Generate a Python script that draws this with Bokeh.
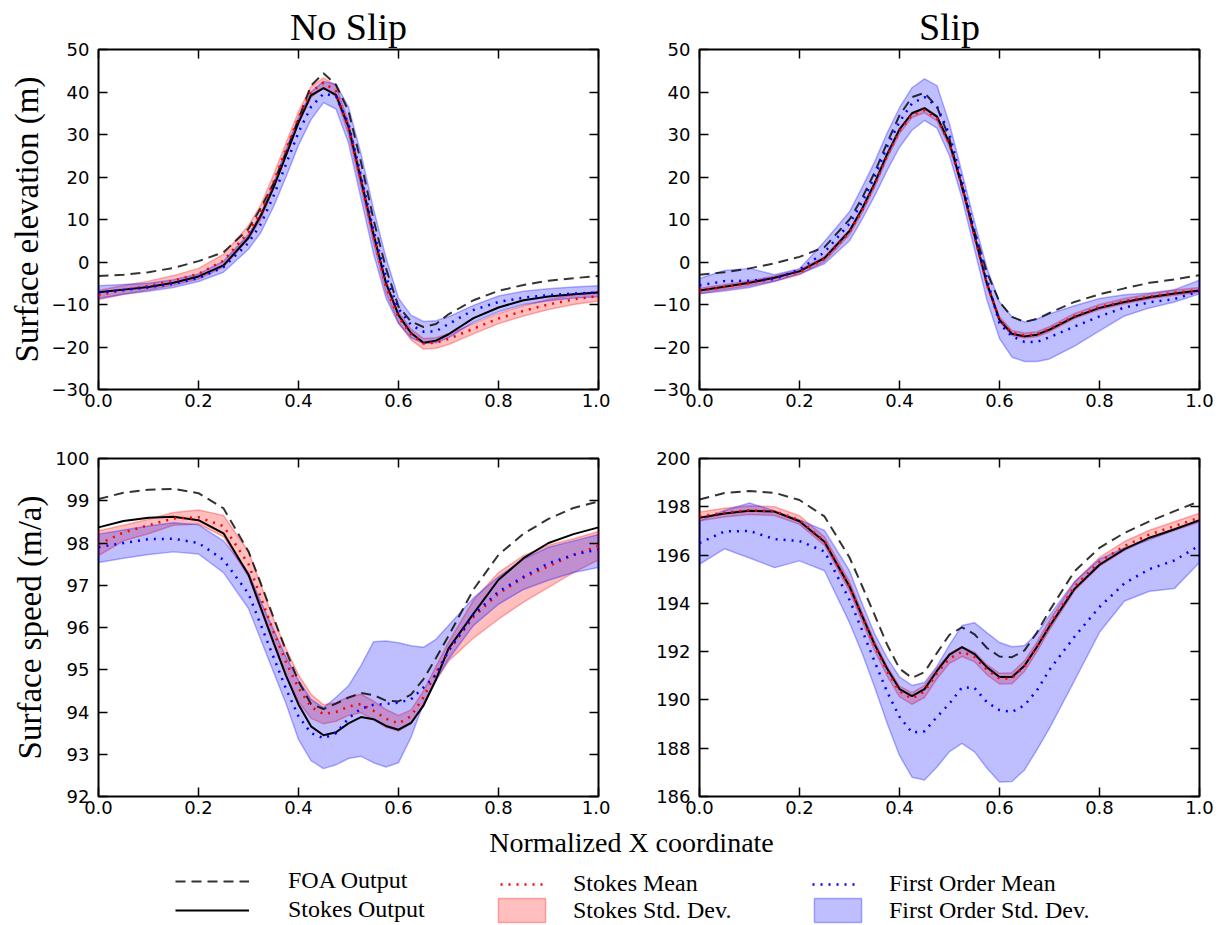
from bokeh.plotting import figure
from bokeh.models import (Range1d, FixedTicker, LinearAxis, Legend, LegendItem,
                          Label, CustomJSTickFormatter)
from bokeh.layouts import column, row
from bokeh.embed import file_html
from bokeh.resources import INLINE

# ---------------- data ----------------
X = [0.0, 0.05, 0.1, 0.15, 0.2, 0.25, 0.3, 0.325, 0.35, 0.375, 0.4, 0.425, 0.45, 0.475,
     0.5, 0.525, 0.55, 0.575, 0.6, 0.625, 0.65, 0.675, 0.7, 0.75, 0.8, 0.85, 0.9, 0.95, 1.0]

# No Slip - surface elevation
ns_elev_foa = [-3.3, -3.0, -2.4, -1.4, 0.2, 2.3, 7.8, 12.8, 18.5, 25.7, 33.6, 41.5, 44.4, 41.7,
               35.5, 23.5, 10.0, -1.5, -10.5, -14.0, -15.3, -14.6, -12.3, -9.0, -6.8, -5.4, -4.4, -3.8, -3.3]
ns_elev_stokes = [-7.1, -6.5, -5.9, -4.9, -3.4, -0.8, 5.7, 11.0, 17.5, 25.1, 32.8, 39.2, 40.9, 39.3,
                  31.8, 19.3, 6.5, -5.0, -12.5, -16.7, -19.0, -18.5, -17.0, -13.2, -10.7, -9.0, -8.1, -7.6, -7.2]
ns_elev_st_mean = [-7.8, -6.6, -5.6, -4.4, -2.8, 0.3, 7.0, 11.8, 18.8, 26.5, 34.0, 40.0, 42.2, 40.2,
                   31.5, 19.0, 6.0, -5.8, -13.0, -17.0, -19.2, -19.0, -18.1, -15.7, -13.3, -11.5, -10.0, -8.8, -8.0]
ns_elev_st_hi = [-6.7, -5.5, -4.5, -3.2, -1.5, 1.8, 8.6, 13.5, 20.5, 28.0, 35.4, 41.3, 43.3, 41.5,
                 33.0, 20.5, 7.5, -4.4, -11.7, -15.8, -18.0, -17.8, -16.9, -14.5, -12.1, -10.3, -8.8, -7.7, -6.9]
ns_elev_st_lo = [-8.9, -7.6, -6.6, -5.5, -4.0, -1.2, 5.4, 10.1, 17.1, 25.0, 32.6, 38.7, 41.0, 38.9,
                 30.0, 17.5, 4.5, -7.2, -14.3, -18.3, -20.5, -20.3, -19.4, -16.9, -14.5, -12.7, -11.2, -10.0, -9.2]
ns_elev_fo_mean = [-7.2, -6.6, -6.0, -5.1, -3.8, -1.2, 4.5, 9.0, 15.5, 23.0, 30.5, 36.5, 39.6, 39.0,
                   32.5, 20.3, 7.5, -3.5, -11.0, -14.8, -16.4, -16.3, -14.6, -11.3, -9.4, -8.4, -7.8, -7.4, -7.2]
ns_elev_fo_hi = [-5.6, -5.3, -5.0, -4.2, -2.8, 0.2, 6.5, 11.5, 18.5, 26.5, 34.0, 40.0, 42.5, 41.8,
                 36.5, 25.5, 12.5, 1.0, -8.5, -12.5, -14.0, -13.8, -12.9, -10.2, -8.0, -6.9, -6.3, -5.9, -5.6]
ns_elev_fo_lo = [-8.6, -7.6, -6.9, -6.0, -4.6, -2.4, 3.0, 7.0, 13.0, 20.0, 27.5, 33.5, 37.5, 36.0,
                 28.0, 15.0, 2.0, -8.5, -14.5, -17.8, -19.2, -19.0, -17.8, -14.2, -11.7, -10.0, -9.1, -8.5, -8.2]

# Slip - surface elevation
s_elev_foa = [-3.0, -2.4, -1.5, -0.3, 1.2, 3.5, 10.0, 15.0, 21.0, 28.0, 34.5, 38.8, 39.8, 36.5,
              29.0, 17.5, 7.2, -2.5, -9.4, -12.9, -14.1, -13.4, -12.0, -9.4, -7.6, -6.2, -4.9, -4.1, -3.1]
s_elev_stokes = [-6.7, -5.8, -4.9, -3.7, -2.2, 0.9, 7.3, 12.5, 18.5, 25.3, 31.2, 35.0, 36.2, 34.2,
                 28.0, 18.0, 6.3, -5.1, -13.6, -16.9, -17.5, -17.1, -15.9, -12.9, -10.8, -9.4, -8.3, -7.4, -6.7]
s_elev_st_mean = [-6.8, -5.9, -5.0, -3.9, -2.4, 0.7, 7.0, 12.1, 18.1, 24.9, 30.8, 34.6, 35.7, 33.8,
                  27.7, 17.8, 6.1, -5.3, -13.5, -16.7, -17.3, -17.0, -15.8, -12.7, -10.6, -9.2, -8.1, -7.2, -6.6]
s_elev_st_hi = [-6.2, -5.3, -4.4, -3.3, -1.8, 1.3, 7.6, 12.7, 18.7, 25.5, 31.4, 35.2, 36.3, 34.4,
                28.3, 18.4, 6.7, -4.7, -12.9, -16.1, -16.7, -16.4, -15.2, -12.1, -10.0, -8.6, -7.5, -6.6, -6.0]
s_elev_st_lo = [-7.4, -6.5, -5.6, -4.5, -3.0, 0.1, 6.4, 11.5, 17.5, 24.3, 30.2, 34.0, 35.1, 33.2,
                27.1, 17.2, 5.5, -5.9, -14.1, -17.3, -17.9, -17.6, -16.4, -13.3, -11.2, -9.8, -8.7, -7.8, -7.2]
s_elev_fo_mean = [-5.5, -4.5, -4.4, -4.0, -1.8, 2.3, 9.0, 14.0, 20.0, 27.0, 33.0, 37.3, 38.8, 36.6,
                  30.0, 19.0, 7.3, -4.0, -14.5, -17.5, -18.8, -18.8, -17.7, -15.2, -12.8, -10.7, -9.5, -8.7, -6.9]
s_elev_fo_hi = [-3.9, -2.0, -1.5, -3.0, -1.6, 4.8, 11.8, 17.5, 23.5, 30.3, 36.3, 41.0, 43.1, 41.5,
                32.5, 21.0, 9.5, -1.5, -9.4, -12.9, -14.1, -13.4, -12.2, -10.3, -8.6, -7.7, -7.3, -6.5, -4.3]
s_elev_fo_lo = [-7.5, -6.8, -6.0, -4.6, -2.8, -0.4, 5.0, 10.0, 15.5, 21.5, 27.0, 31.0, 33.3, 31.5,
                25.0, 15.0, 3.0, -9.0, -18.0, -22.4, -23.4, -23.4, -22.8, -19.8, -16.2, -12.7, -10.8, -9.4, -7.5]

# No Slip - surface speed
ns_speed_foa = [99.04, 99.19, 99.26, 99.28, 99.18, 98.82, 97.8, 97.03, 96.24, 95.45, 94.73, 94.19, 94.07, 94.2,
                94.34, 94.45, 94.4, 94.27, 94.25, 94.41, 94.78, 95.28, 95.8, 96.9, 97.72, 98.22, 98.57, 98.83, 98.98]
ns_speed_stokes = [98.37, 98.52, 98.6, 98.62, 98.54, 98.23, 97.25, 96.45, 95.65, 94.86, 94.18, 93.66, 93.45, 93.52,
                   93.73, 93.88, 93.83, 93.67, 93.58, 93.74, 94.15, 94.77, 95.5, 96.33, 97.13, 97.64, 98.0, 98.21, 98.37]
ns_speed_st_mean = [97.97, 98.25, 98.42, 98.58, 98.61, 98.4, 97.5, 96.7, 95.9, 95.18, 94.57, 94.12, 93.95, 94.0,
                    94.13, 94.19, 94.03, 93.84, 93.73, 93.9, 94.35, 94.93, 95.45, 96.25, 96.8, 97.18, 97.45, 97.72, 97.93]
ns_speed_st_hi = [98.29, 98.42, 98.56, 98.72, 98.78, 98.65, 97.8, 97.0, 96.2, 95.5, 94.88, 94.42, 94.17, 94.22,
                  94.36, 94.42, 94.26, 94.06, 93.92, 94.05, 94.5, 95.08, 95.65, 96.65, 97.3, 97.7, 97.95, 98.1, 98.27]
ns_speed_st_lo = [97.7, 98.05, 98.22, 98.42, 98.45, 98.15, 97.2, 96.4, 95.6, 94.86, 94.25, 93.85, 93.72, 93.78,
                  93.92, 93.98, 93.82, 93.64, 93.55, 93.72, 94.18, 94.75, 95.2, 95.75, 96.2, 96.6, 96.95, 97.3, 97.6]
ns_speed_fo_mean = [97.9, 98.0, 98.09, 98.1, 98.0, 97.6, 96.8, 96.05, 95.3, 94.55, 93.9, 93.5, 93.38, 93.5,
                    93.85, 94.08, 94.17, 94.19, 94.22, 94.3, 94.58, 94.88, 95.45, 96.3, 96.85, 97.2, 97.52, 97.72, 97.85]
ns_speed_fo_hi = [98.21, 98.31, 98.4, 98.48, 98.43, 98.05, 97.3, 96.6, 95.95, 95.3, 94.75, 94.3, 94.1, 94.35,
                  94.62, 95.1, 95.66, 95.68, 95.64, 95.57, 95.53, 95.72, 96.05, 96.7, 97.2, 97.62, 97.9, 98.05, 98.2]
ns_speed_fo_lo = [97.54, 97.64, 97.73, 97.79, 97.74, 97.3, 96.45, 95.7, 94.95, 94.2, 93.35, 92.85, 92.66, 92.75,
                  92.9, 92.95, 92.8, 92.7, 92.8, 93.4, 94.2, 94.75, 95.25, 96.05, 96.55, 96.9, 97.12, 97.3, 97.42]

# Slip - surface speed
s_speed_foa = [198.3, 198.57, 198.65, 198.58, 198.28, 197.6, 195.9, 194.73, 193.53, 192.3, 191.3, 190.91, 191.15, 191.95,
               192.7, 193.01, 192.72, 192.15, 191.8, 191.77, 192.05, 192.8, 193.7, 195.33, 196.3, 196.92, 197.4, 197.82, 198.23]
s_speed_stokes = [197.55, 197.72, 197.84, 197.8, 197.4, 196.55, 194.7, 193.49, 192.3, 191.3, 190.45, 190.16, 190.45, 191.2,
                  191.88, 192.19, 191.9, 191.35, 190.95, 190.95, 191.42, 192.2, 193.05, 194.6, 195.6, 196.25, 196.72, 197.07, 197.45]
s_speed_st_mean = [197.6, 197.76, 197.86, 197.82, 197.45, 196.58, 194.7, 193.45, 192.25, 191.2, 190.35, 190.06, 190.35, 191.1,
                   191.72, 192.0, 191.78, 191.25, 190.88, 190.9, 191.4, 192.2, 193.1, 194.7, 195.72, 196.38, 196.85, 197.2, 197.55]
s_speed_st_hi = [197.78, 197.94, 198.04, 198.0, 197.63, 196.76, 194.9, 193.65, 192.45, 191.4, 190.57, 190.3, 190.6, 191.32,
                 191.92, 192.2, 191.98, 191.46, 191.1, 191.13, 191.62, 192.4, 193.3, 194.88, 195.9, 196.56, 197.03, 197.38, 197.73]
s_speed_st_lo = [197.42, 197.58, 197.68, 197.64, 197.27, 196.4, 194.5, 193.25, 192.05, 191.0, 190.13, 189.82, 190.1, 190.88,
                 191.52, 191.8, 191.58, 191.04, 190.66, 190.67, 191.18, 192.0, 192.9, 194.52, 195.54, 196.2, 196.67, 197.02, 197.37]
s_speed_fo_mean = [196.5, 196.98, 197.0, 196.66, 196.58, 196.15, 194.15, 192.9, 191.6, 190.35, 189.3, 188.65, 188.7, 189.3,
                   189.85, 190.52, 190.5, 189.9, 189.58, 189.5, 189.78, 190.4, 191.25, 192.62, 193.85, 194.83, 195.42, 195.78, 196.4]
s_speed_fo_hi = [197.41, 197.85, 198.16, 197.83, 197.45, 197.02, 195.35, 194.0, 192.75, 191.75, 190.95, 190.6, 190.72, 191.4,
                 192.28, 193.08, 193.2, 192.78, 192.38, 192.2, 192.25, 192.75, 193.5, 194.9, 195.83, 196.3, 196.63, 197.06, 197.41]
s_speed_fo_lo = [195.62, 196.26, 195.88, 195.48, 195.76, 195.35, 193.2, 191.95, 190.55, 189.05, 187.7, 186.8, 186.68, 187.22,
                 187.86, 188.2, 187.85, 187.17, 186.6, 186.62, 187.1, 187.94, 188.83, 190.8, 192.8, 194.1, 194.5, 194.62, 195.69]

# ticks
X_TICKS = [0.0, 0.2, 0.4, 0.6, 0.8, 1.0]
X_TICK_LABELS = ["0.0", "0.2", "0.4", "0.6", "0.8", "1.0"]
ELEV_TICKS = [-30, -20, -10, 0, 10, 20, 30, 40, 50]
ELEV_TICK_LABELS = ["\u221230", "\u221220", "\u221210", "0", "10", "20", "30", "40", "50"]
NS_SPEED_TICKS = [92, 93, 94, 95, 96, 97, 98, 99, 100]
NS_SPEED_TICK_LABELS = ["92", "93", "94", "95", "96", "97", "98", "99", "100"]
S_SPEED_TICKS = [186, 188, 190, 192, 194, 196, 198, 200]
S_SPEED_TICK_LABELS = ["186", "188", "190", "192", "194", "196", "198", "200"]

TITLES = ["No Slip", "Slip"]
Y_LABELS = ["Surface elevation (m)", "Surface speed (m/a)"]
X_LABEL = "Normalized X coordinate"
LEGEND_LABELS = ["FOA Output", "Stokes Output", "Stokes Mean", "Stokes Std. Dev.",
                 "First Order Mean", "First Order Std. Dev."]

# ---------------- styling ----------------
SERIF = "Liberation Serif"
SANS = "DejaVu Sans"
RED = "#ff0000"
BLUE = "#0000ff"
FOA_STYLE = dict(line_color="black", line_alpha=0.8, line_width=2, line_dash="10 6")
STOKES_STYLE = dict(line_color="black", line_width=2)
ST_MEAN_STYLE = dict(line_color=RED, line_width=2.5, line_dash="2 6")
FO_MEAN_STYLE = dict(line_color=BLUE, line_width=2.5, line_dash="2 6")
ST_BAND_STYLE = dict(fill_color=RED, fill_alpha=0.25, line_color=RED, line_alpha=0.3, line_width=1.5)
FO_BAND_STYLE = dict(fill_color=BLUE, fill_alpha=0.25, line_color=BLUE, line_alpha=0.3, line_width=1.5)


def tick_fmt(vals, labs):
    return CustomJSTickFormatter(args=dict(vals=vals, labs=labs), code="""
        for (let i = 0; i < vals.length; i++) {
            if (Math.abs(vals[i] - tick) < 1e-6) { return labs[i]; }
        }
        return "";
    """)


def make_axis(ticks, labs, show_labels, standoff=9):
    ax = LinearAxis(ticker=FixedTicker(ticks=ticks))
    ax.major_tick_in = 9
    ax.major_tick_out = 0
    ax.minor_tick_line_color = None
    ax.major_tick_line_color = "black"
    ax.major_tick_line_width = 1.5
    ax.axis_line_color = None
    if show_labels:
        ax.formatter = tick_fmt(ticks, labs)
        ax.major_label_text_font = SANS
        ax.major_label_text_font_size = "18px"
        ax.major_label_text_color = "black"
        ax.major_label_standoff = standoff
    else:
        ax.formatter = CustomJSTickFormatter(code='return "";')
        ax.major_label_text_font_size = "1px"
        ax.major_label_standoff = 0
    return ax


def panel(data, yr, yticks, ylabs, title, ylabel, left, right, top, bottom, fh):
    foa, stokes, st_mean, st_hi, st_lo, fo_mean, fo_hi, fo_lo = data
    p = figure(frame_width=500, frame_height=fh, x_range=Range1d(0, 1), y_range=Range1d(*yr),
               toolbar_location=None, output_backend="svg", x_axis_type=None, y_axis_type=None,
               min_border_left=left, min_border_right=right, min_border_top=top,
               min_border_bottom=bottom)
    p.outline_line_color = "black"
    p.outline_line_width = 2
    p.outline_line_alpha = 1.0
    p.background_fill_color = "white"
    p.border_fill_color = "white"

    xb = make_axis(X_TICKS, X_TICK_LABELS, True, standoff=4)
    yl = make_axis(yticks, ylabs, True, standoff=9)
    if ylabel:
        yl.axis_label = ylabel
        yl.axis_label_text_font = SERIF
        yl.axis_label_text_font_size = "33px"
        yl.axis_label_text_font_style = "normal"
        yl.axis_label_text_color = "black"
        yl.axis_label_standoff = 4
    p.add_layout(xb, "below")
    p.add_layout(yl, "left")
    p.add_layout(make_axis(X_TICKS, X_TICK_LABELS, False), "above")
    p.add_layout(make_axis(yticks, ylabs, False), "right")

    if title:
        p.title.text = title
        p.title.align = "center"
        p.title.text_font = SERIF
        p.title.text_font_size = "38px"
        p.title.text_font_style = "normal"
        p.title.text_color = "black"
        p.title.standoff = 3
    else:
        p.title.visible = False

    # bands (polygon built from the band arrays)
    p.patch(X + X[::-1], st_hi + st_lo[::-1], **ST_BAND_STYLE)
    p.patch(X + X[::-1], fo_hi + fo_lo[::-1], **FO_BAND_STYLE)
    p.line(X, foa, **FOA_STYLE)
    p.line(X, stokes, **STOKES_STYLE)
    p.line(X, st_mean, **ST_MEAN_STYLE)
    p.line(X, fo_mean, **FO_MEAN_STYLE)
    return p


tl = panel((ns_elev_foa, ns_elev_stokes, ns_elev_st_mean, ns_elev_st_hi, ns_elev_st_lo,
            ns_elev_fo_mean, ns_elev_fo_hi, ns_elev_fo_lo),
           (-30, 50), ELEV_TICKS, ELEV_TICK_LABELS, TITLES[0], Y_LABELS[0], 98, 12, 49, 31, 340)
tr = panel((s_elev_foa, s_elev_stokes, s_elev_st_mean, s_elev_st_hi, s_elev_st_lo,
            s_elev_fo_mean, s_elev_fo_hi, s_elev_fo_lo),
           (-30, 50), ELEV_TICKS, ELEV_TICK_LABELS, TITLES[1], None, 89, 23, 49, 31, 340)
bl = panel((ns_speed_foa, ns_speed_stokes, ns_speed_st_mean, ns_speed_st_hi, ns_speed_st_lo,
            ns_speed_fo_mean, ns_speed_fo_hi, ns_speed_fo_lo),
           (92, 100), NS_SPEED_TICKS, NS_SPEED_TICK_LABELS, None, Y_LABELS[1], 98, 12, 38, 28, 338)
br = panel((s_speed_foa, s_speed_stokes, s_speed_st_mean, s_speed_st_hi, s_speed_st_lo,
            s_speed_fo_mean, s_speed_fo_hi, s_speed_fo_lo),
           (186, 200), S_SPEED_TICKS, S_SPEED_TICK_LABELS, None, None, 89, 23, 38, 28, 338)

# ---------------- x label + legend strip ----------------
lf = figure(width=1222, height=101, x_range=Range1d(0, 1), y_range=Range1d(0, 1),
            toolbar_location=None, output_backend="svg", x_axis_type=None, y_axis_type=None,
            min_border=0)
lf.outline_line_color = None
lf.title.visible = False

lf.add_layout(Label(x=631, y=83, x_units="screen", y_units="screen", text=X_LABEL,
                    text_align="center", text_baseline="middle", text_font=SERIF,
                    text_font_size="28px", text_color="black"))

# Key-only renderers: a single missing (NaN) point, so nothing is drawn in the strip
# itself, while the legends still get a glyph style to show.
NAN = [float("nan")]
r_foa = lf.line(NAN, NAN, **FOA_STYLE)
r_st = lf.line(NAN, NAN, **STOKES_STYLE)
r_stm = lf.line(NAN, NAN, **ST_MEAN_STYLE)
r_stb = lf.patch(NAN, NAN, **ST_BAND_STYLE)
r_fom = lf.line(NAN, NAN, **FO_MEAN_STYLE)
r_fob = lf.patch(NAN, NAN, **FO_BAND_STYLE)


def add_legend(label, rend, loc, gw, gh, standoff):
    leg = Legend(items=[LegendItem(label=label, renderers=[rend])], location=loc,
                 glyph_width=gw, glyph_height=gh, label_height=gh, label_standoff=standoff,
                 padding=0, margin=0, spacing=0, border_line_color=None,
                 background_fill_alpha=0, label_text_font=SERIF, label_text_font_size="24px",
                 label_text_baseline="middle", label_text_color="black")
    lf.add_layout(leg)


add_legend(LEGEND_LABELS[0], r_foa, (175, 31), 74, 26, 39)
add_legend(LEGEND_LABELS[1], r_st, (175, 2), 74, 26, 39)
add_legend(LEGEND_LABELS[2], r_stm, (500, 28), 44, 26, 29)
add_legend(LEGEND_LABELS[3], r_stb, (492, 0), 59, 30, 22)
add_legend(LEGEND_LABELS[4], r_fom, (812, 28), 44, 26, 33)
add_legend(LEGEND_LABELS[5], r_fob, (808, 0), 59, 30, 22)

layout = column(row(tl, tr), row(bl, br), lf)

open("out.html", "w").write(file_html(layout, INLINE))
